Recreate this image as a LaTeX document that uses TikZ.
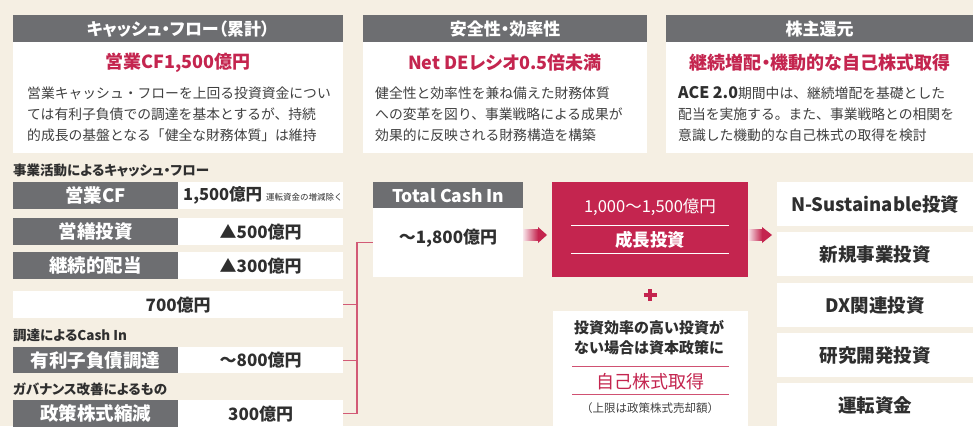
\documentclass[tikz,border=0pt]{standalone}
\usepackage{fontspec}
\setmainfont{Noto Sans CJK JP}
\newfontfamily\jpp{Noto Sans CJK JP}[RawFeature=+palt]
\definecolor{bg}{HTML}{F5EFE3}
\definecolor{hdr}{HTML}{6D6E71}
\definecolor{crim}{HTML}{C4254F}
\definecolor{txt}{HTML}{2F2F2F}
\definecolor{bodyc}{HTML}{404040}
\definecolor{brk}{HTML}{D25A76}
\newcommand\fsz[1]{\fontsize{#1}{#1}\selectfont}
\begin{document}
\begin{tikzpicture}[x=1pt,y=-1pt,
  hdrbox/.style={fill=hdr, anchor=north west, inner sep=0pt, text=white, font=\jpp\bfseries\fsz{17}},
  wbox/.style={fill=white, anchor=north west, inner sep=0pt, text=txt},
  crbox/.style={fill=crim, anchor=north west, inner sep=0pt},
  ttl/.style={inner sep=0pt, text=crim, font=\jpp\bfseries\fsz{18}},
  bodytxt/.style={inner sep=0pt, anchor=west, text=bodyc, font=\fsz{13.8}},
  sect/.style={inner sep=0pt, anchor=west, text=txt, font=\jpp\bfseries\fsz{13.5}},
  glab/.style={fill=hdr, anchor=north west, inner sep=0pt, text=white, font=\bfseries\fsz{18.5}, minimum width=165pt},
  wval/.style={wbox, font=\bfseries\fsz{17}, minimum width=165pt},
  rcol/.style={wbox, font=\bfseries\fsz{18.5}, minimum width=196pt, minimum height=44pt},
  brkline/.style={draw=brk, line width=1.3pt},
  wline/.style={draw=white, line width=0.9pt},
  pline/.style={draw=crim!80, line width=0.9pt}
]
\useasboundingbox (0,0) rectangle (973,426);
\fill[bg] (0,0) rectangle (973,426);
\clip (0,0) rectangle (973,426);

% ---------- top panels ----------
\node[hdrbox, minimum width=330pt, minimum height=27pt] (h1) at (13,15) {キャッシュ・フロー（累計）};
\node[wbox, minimum width=330pt, minimum height=111pt] (p1) at (13,42) {};
\node[ttl] (t1) at (178,63) {営業CF1,500億円};
\node[bodytxt] (l11) at (27,93) {営業キャッシュ・フローを上回る投資資金につい};
\node[bodytxt] (l12) at (27,114) {ては有利子負債での調達を基本とするが、持続};
\node[bodytxt] (l13) at (27,135) {的成長の基盤となる「健全な財務体質」は維持};

\node[hdrbox, minimum width=284pt, minimum height=27pt] (h2) at (363,15) {安全性・効率性};
\node[wbox, minimum width=284pt, minimum height=111pt] (p2) at (363,42) {};
\node[ttl] (t2) at (505,63) {Net DEレシオ0.5倍未満};
\node[bodytxt] (l21) at (375,93) {健全性と効率性を兼ね備えた財務体質};
\node[bodytxt] (l22) at (375,114) {への変革を図り、事業戦略による成果が};
\node[bodytxt] (l23) at (375,135) {効果的に反映される財務構造を構築};

\node[hdrbox, minimum width=307pt, minimum height=27pt] (h3) at (666,15) {株主還元};
\node[wbox, minimum width=307pt, minimum height=111pt] (p3) at (666,42) {};
\node[ttl] (t3) at (820,63) {継続増配・機動的な自己株式取得};
\node[bodytxt] (l31) at (678,93) {{\color{txt}\bfseries\fsz{16}ACE 2.0}期間中は、継続増配を基礎とした};
\node[bodytxt] (l32) at (678,114) {配当を実施する。また、事業戦略との相関を};
\node[bodytxt] (l33) at (678,135) {意識した機動的な自己株式の取得を検討};

% ---------- left column ----------
\node[sect] (s1) at (13,170) {事業活動によるキャッシュ・フロー};
\node[glab, minimum height=27pt] (r1g) at (13,182) {営業CF};
\node[wval, minimum height=27pt] (r1w) at (178,182) {};
\node[inner sep=0pt, anchor=west, text=txt] (r1t) at (183,195.5) {{\bfseries\fsz{16.5}1,500億円}\hspace{4pt}{\fsz{8.5}運転資金の増減除く}};

\node[glab, minimum height=27pt] (r2g) at (13,218) {営繕投資};
\node[wval, minimum height=27pt] (r2w) at (178,218) {▲500億円};

\node[glab, minimum height=27pt] (r3g) at (13,252) {継続的配当};
\node[wval, minimum height=27pt] (r3w) at (178,252) {▲300億円};

\node[wbox, font=\bfseries\fsz{17}, minimum width=330pt, minimum height=27pt] (r4w) at (13,291) {700億円};

\node[sect] (s2) at (13,335) {調達によるCash In};
\node[glab, minimum height=26pt] (r5g) at (13,347) {有利子負債調達};
\node[wval, minimum height=26pt] (r5w) at (178,347) {～800億円};

\node[sect] (s3) at (13,389) {ガバナンス改善によるもの};
\node[glab, minimum height=27pt] (r6g) at (13,400) {政策株式縮減};
\node[wval, minimum height=27pt] (r6w) at (178,400) {300億円};

% ---------- total cash in ----------
\coordinate (bx) at (357,0);
\node[hdrbox, font=\bfseries\fsz{17.5}, minimum width=150pt, minimum height=26pt] (tcih) at (373,182) {Total Cash In};
\node[wbox, minimum width=150pt, minimum height=69pt] (tciw) at (373,208) {};
\node[inner sep=0pt, text=txt, font=\bfseries\fsz{17}] (tcit) at (448,238) {～1,800億円};

\draw[brkline] (r4w.east) -- (r4w.east -| bx);
\draw[brkline] (r5w.east) -- (r5w.east -| bx);
\draw[brkline] (r6w.east) -- (r6w.east -| bx) -- (bx |- tciw.west) -- (tciw.west);

% ---------- arrows ----------
\shade[left color=crim!12, right color=crim] (523,229.5) rectangle (538,240.5);
\fill[crim] (538,227) -- (547,235) -- (538,243) -- cycle;
\shade[left color=crim!12, right color=crim] (748,229.5) rectangle (762,240.5);
\fill[crim] (762,227) -- (772,235) -- (762,243) -- cycle;

% ---------- growth box ----------
\node[crbox, minimum width=196pt, minimum height=95pt] (cb) at (552,182) {};
\node[inner sep=0pt, text=white, font=\fsz{16.5}] (cb1) at (650,207) {1,000～1,500億円};
\draw[wline] (571,225) -- (729,225);
\node[inner sep=0pt, text=white, font=\bfseries\fsz{17.5}] (cb2) at (650,240) {成長投資};
\draw[wline] (571,253) -- (729,253);

% plus
\draw[crim, line width=3.6pt] (643.5,295) -- (656.5,295);
\draw[crim, line width=3.6pt] (650,289) -- (650,301);

% ---------- buyback box ----------
\node[wbox, minimum width=195pt, minimum height=116pt] (bb) at (553,311) {};
\node[inner sep=0pt, text=txt, font=\bfseries\fsz{15}] (bb1) at (649,328) {投資効率の高い投資が};
\node[inner sep=0pt, text=txt, font=\bfseries\fsz{15}] (bb2) at (649,348) {ない場合は資本政策に};
\draw[pline] (572,366) -- (729,366);
\node[inner sep=0pt, text=crim, font=\fsz{18}] (bb3) at (650,382) {自己株式取得};
\draw[pline] (572,394) -- (729,394);
\node[inner sep=0pt, text=bodyc, font=\fsz{11.5}] (bb4) at (650,408) {（上限は政策株式売却額）};

% ---------- right column ----------
\node[rcol] (c1) at (777,182) {N-Sustainable投資};
\node[rcol] (c2) at (777,232) {新規事業投資};
\node[rcol] (c3) at (777,283) {DX関連投資};
\node[rcol] (c4) at (777,333) {研究開発投資};
\node[rcol] (c5) at (777,383) {運転資金};
\end{tikzpicture}
\end{document}
